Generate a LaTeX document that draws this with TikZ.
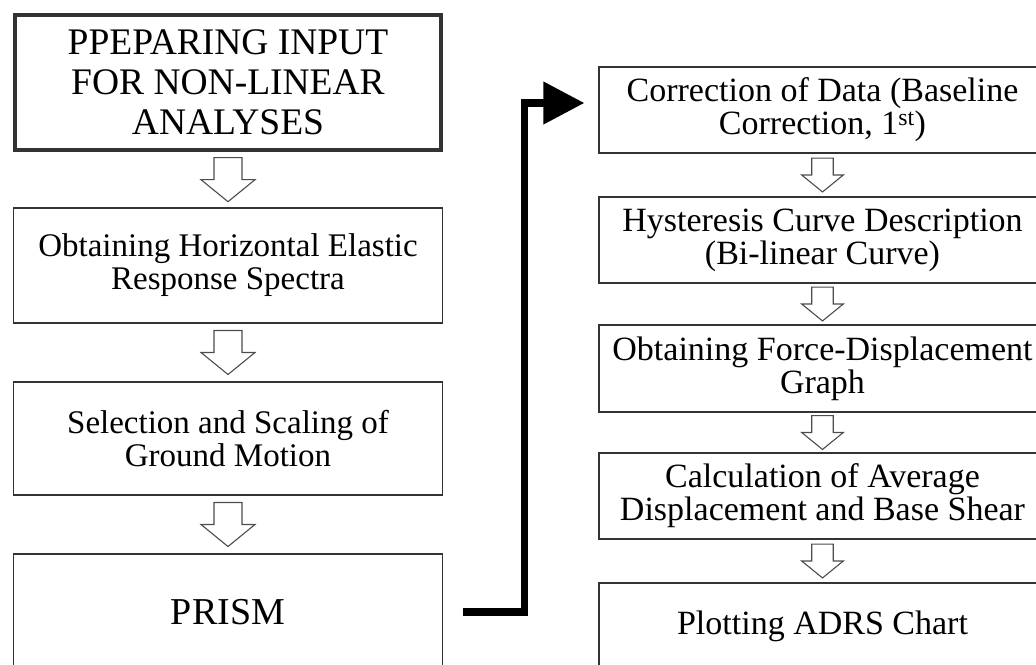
\documentclass[tikz,border=0pt]{standalone}
\usepackage{fontspec}
\setmainfont{Liberation Serif}
\usetikzlibrary{arrows.meta,calc}
\tikzset{
 box/.style={draw=black!80,line width=1.3pt,align=center,inner sep=0pt,minimum width=429pt,font=\fontsize{33}{33}\selectfont},
 rbox/.style={draw=black!80,line width=1.3pt,align=center,inner sep=0pt,minimum width=447pt,minimum height=86pt,font=\fontsize{34}{33}\selectfont},
 hollow/.style={draw=black!70,fill=white,line width=1.1pt,line join=miter},
 flow/.style={line width=7.5pt,-{Triangle[length=41pt,width=41pt]}}
}
\begin{document}
\begin{tikzpicture}[x=1pt,y=-1pt]
\useasboundingbox (0,0) rectangle (1036,664);
\clip (0,0) rectangle (1036,664);

% left column
\node[box,line width=4pt,minimum width=426pt,minimum height=135pt,font=\fontsize{37.5}{40}\selectfont] (b1) at (228,82.5) {PPEPARING INPUT\\FOR NON-LINEAR\\ANALYSES};
\node[box,minimum height=115pt] (b2) at (228,265.5) {Obtaining Horizontal Elastic\\Response Spectra};
\node[box,minimum height=113pt] (b3) at (228,438.5) {Selection and Scaling of\\Ground Motion};
\node[box,minimum height=116pt,font=\fontsize{38}{38}\selectfont] (b4) at (228,612) {PRISM};

% right column
\node[rbox] (r1) at (822.5,110) {Correction of Data (Baseline\\Correction, 1\textsuperscript{st})};
\node[rbox] (r2) at (822.5,240) {Hysteresis Curve Description\\(Bi-linear Curve)};
\node[rbox,minimum height=87pt] (r3) at (822.5,368.5) {Obtaining Force-Displacement\\Graph};
\node[rbox] (r4) at (822.5,496) {Calculation of Average\\Displacement and Base Shear};
\node[rbox,minimum height=87pt] (r5) at (822.5,626.5) {Plotting ADRS Chart};

% hollow arrows between the boxes
\foreach \a/\b/\s in {b1/b2/1,b2/b3/1,b3/b4/1,r1/r2/0.77,r2/r3/0.77,r3/r4/0.77,r4/r5/0.77} {
  \coordinate (m) at ($(\a.south)!0.5!(\b.north)$);
  \begin{scope}[shift={(m)},scale=\s]
    \draw[hollow] (-14,-22) -- (14,-22) -- (14,0) -- (27,0) -- (0,22) -- (-27,0) -- (-14,0) -- cycle;
  \end{scope}
}

% connector from PRISM to the right column
\draw[flow] ([xshift=20pt]b4.east) -- ++(61.5,0) |- ([xshift=-14pt,yshift=7pt]r1.west);
\end{tikzpicture}
\end{document}
